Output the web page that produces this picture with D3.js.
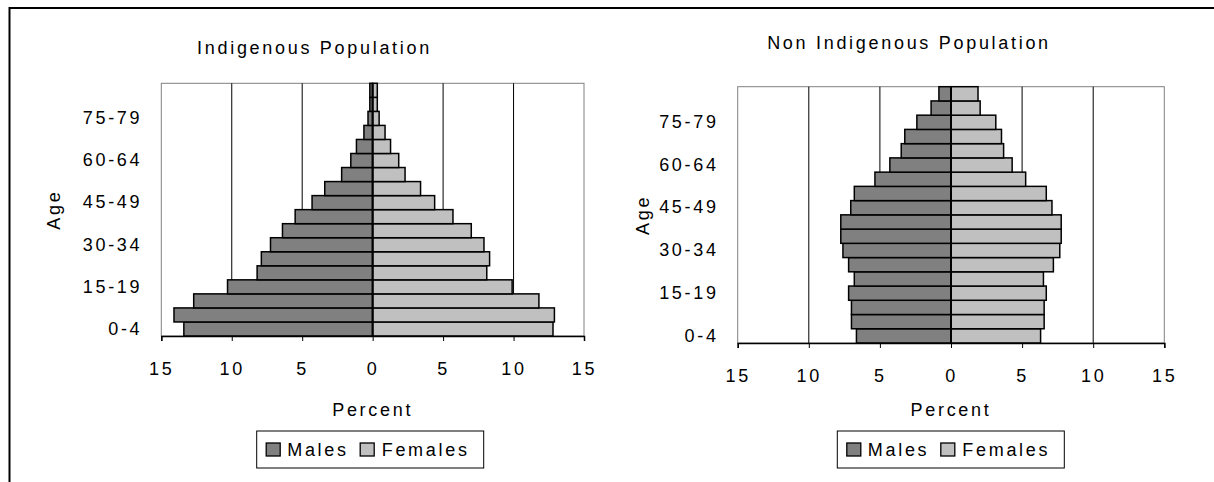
<!DOCTYPE html>
<html>
<head>
<meta charset="utf-8">
<script src="https://cdn.jsdelivr.net/npm/d3@7"></script>
<style>
  html, body { margin: 0; padding: 0; background: #fff; }
  svg { display: block; }
  text { font-family: Arial, "Liberation Sans", sans-serif; fill: #000; }
</style>
</head>
<body>
<svg id="chart" width="1214" height="482"></svg>
<script>
// ---- data ----
const ageGroups = ["0-4","5-9","10-14","15-19","20-24","25-29","30-34","35-39","40-44","45-49","50-54","55-59","60-64","65-69","70-74","75-79","80-84","85+"];
const ageTickLabels = ["0-4","15-19","30-34","45-49","60-64","75-79"];
const percentTicks = [-15, -10, -5, 0, 5, 10, 15];

const indigenousMales   = [13.4, 14.1, 12.7, 10.3, 8.2, 7.9, 7.25, 6.4, 5.5, 4.3, 3.4, 2.2, 1.55, 1.15, 0.62, 0.33, 0.2, 0.2];
const indigenousFemales = [12.8, 12.9, 11.8, 9.9, 8.1, 8.3, 7.9, 7.0, 5.7, 4.4, 3.4, 2.3, 1.85, 1.27, 0.88, 0.46, 0.33, 0.33];

const nonIndigenousMales   = [6.65, 7.0, 7.0, 7.2, 6.8, 7.2, 7.6, 7.75, 7.75, 7.05, 6.8, 5.35, 4.3, 3.5, 3.25, 2.4, 1.4, 0.85];
const nonIndigenousFemales = [6.3, 6.55, 6.55, 6.7, 6.5, 7.2, 7.65, 7.75, 7.75, 7.1, 6.7, 5.25, 4.3, 3.7, 3.55, 3.15, 2.05, 1.9];

const seriesNames = ["Males", "Females"];
const seriesColors = ["#808080", "#c0c0c0"];

const titles = ["Indigenous Population", "Non Indigenous Population"];

// ---- layout ----
const svg = d3.select("#chart");
const LS = "2.7px";
const FS = "18px";

// outer frame (only top/left visible)
svg.append("rect")
  .attr("x", 9.5).attr("y", 8).attr("width", 1300).attr("height", 600)
  .attr("fill", "none").attr("stroke", "#000").attr("stroke-width", 2);

const panels = [
  { title: titles[0], males: indigenousMales, females: indigenousFemales,
    x0: 161.3, x1: 584, y0: 83.3, y1: 336, titleX: 314.5, titleY: 54,
    ageX: 60, legendX: 256.7 },
  { title: titles[1], males: nonIndigenousMales, females: nonIndigenousFemales,
    x0: 737.7, x1: 1164.3, y0: 86.7, y1: 343, titleX: 909, titleY: 48.5,
    ageX: 649, legendX: 837.3 }
];

panels.forEach(p => {
  const g = svg.append("g");
  const x = d3.scaleLinear().domain([-15, 15]).range([p.x0, p.x1]);
  const y = d3.scaleBand().domain(ageGroups).range([p.y1, p.y0]).padding(0);

  // title
  g.append("text")
    .attr("x", p.titleX).attr("y", p.titleY)
    .attr("text-anchor", "middle")
    .style("font-size", FS).style("letter-spacing", LS)
    .text(p.title);

  // plot area frame
  g.append("rect")
    .attr("x", p.x0).attr("y", p.y0)
    .attr("width", p.x1 - p.x0).attr("height", p.y1 - p.y0)
    .attr("fill", "#fff").attr("stroke", "#808080").attr("stroke-width", 1);

  // gridlines
  g.selectAll(".grid")
    .data(percentTicks.filter(v => Math.abs(v) !== 15 && v !== 0))
    .enter().append("line")
    .attr("x1", d => x(d)).attr("x2", d => x(d))
    .attr("y1", p.y0).attr("y2", p.y1)
    .attr("stroke", "#000").attr("stroke-width", 1);

  // bars
  const rows = ageGroups.map((a, i) => ({ age: a, m: p.males[i], f: p.females[i] }));
  g.selectAll(".male").data(rows).enter().append("rect")
    .attr("x", d => x(-d.m)).attr("width", d => x(0) - x(-d.m))
    .attr("y", d => y(d.age)).attr("height", y.bandwidth())
    .attr("fill", seriesColors[0]).attr("stroke", "#000").attr("stroke-width", 1.5);
  g.selectAll(".female").data(rows).enter().append("rect")
    .attr("x", x(0)).attr("width", d => x(d.f) - x(0))
    .attr("y", d => y(d.age)).attr("height", y.bandwidth())
    .attr("fill", seriesColors[1]).attr("stroke", "#000").attr("stroke-width", 1.5);

  // zero axis line
  g.append("line")
    .attr("x1", x(0)).attr("x2", x(0)).attr("y1", p.y0).attr("y2", p.y1)
    .attr("stroke", "#000").attr("stroke-width", 2);

  // x axis
  const xAxis = d3.axisBottom(x).tickValues(percentTicks)
    .tickFormat(d => Math.abs(d)).tickSize(5).tickPadding(21);
  const ax = g.append("g").attr("transform", `translate(0,${p.y1})`).call(xAxis);
  ax.select(".domain").attr("stroke", "#000").attr("stroke-width", 1.5);
  ax.selectAll(".tick line").attr("stroke", "#000");
  ax.selectAll("text").style("font-size", FS).style("letter-spacing", LS)
    .style("font-family", "Arial, 'Liberation Sans', sans-serif").attr("fill", "#000");

  // y axis labels
  const yAxis = d3.axisLeft(y).tickValues(ageTickLabels).tickSize(0).tickPadding(19);
  const ay = g.append("g").attr("transform", `translate(${p.x0},0)`).call(yAxis);
  ay.select(".domain").remove();
  ay.selectAll("text").style("font-size", FS).style("letter-spacing", LS)
    .style("font-family", "Arial, 'Liberation Sans', sans-serif").attr("fill", "#000");

  // axis titles
  g.append("text")
    .attr("x", (p.x0 + p.x1) / 2).attr("y", 416)
    .attr("text-anchor", "middle")
    .style("font-size", FS).style("letter-spacing", LS)
    .text("Percent");
  g.append("text")
    .attr("transform", `translate(${p.ageX},${(p.y0 + p.y1) / 2}) rotate(-90)`)
    .attr("text-anchor", "middle")
    .style("font-size", FS).style("letter-spacing", LS)
    .text("Age");

  // legend
  const lg = g.append("g").attr("transform", `translate(${p.legendX},431)`);
  lg.append("rect").attr("x", 0).attr("y", 0).attr("width", 227).attr("height", 37)
    .attr("fill", "#fff").attr("stroke", "#000").attr("stroke-width", 1);
  const items = [{ n: seriesNames[0], c: seriesColors[0], sx: 9.5, tx: 30.5 },
                 { n: seriesNames[1], c: seriesColors[1], sx: 103.5, tx: 125 }];
  items.forEach(it => {
    lg.append("rect").attr("x", it.sx).attr("y", 12).attr("width", 14).attr("height", 13)
      .attr("fill", it.c).attr("stroke", "#000").attr("stroke-width", 1.3);
    lg.append("text").attr("x", it.tx).attr("y", 25)
      .style("font-size", FS).style("letter-spacing", LS)
      .text(it.n);
  });
});
</script>
</body>
</html>
